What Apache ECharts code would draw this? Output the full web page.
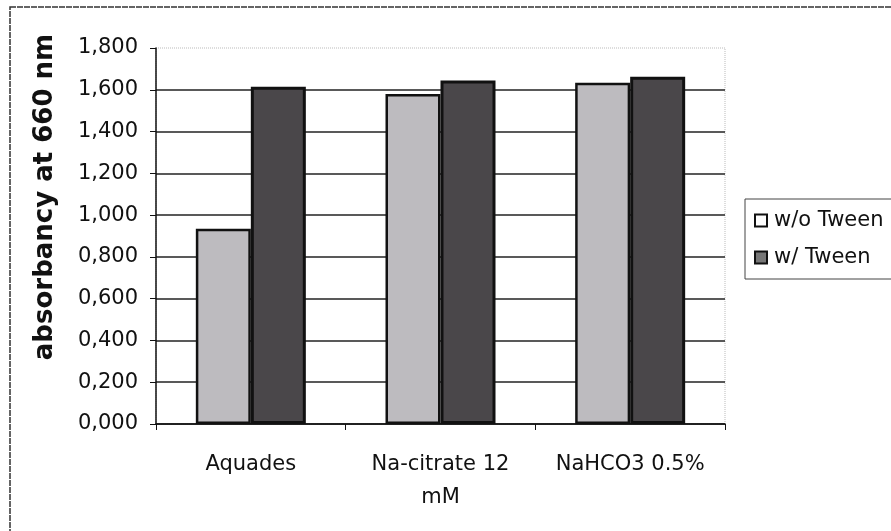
<!DOCTYPE html>
<html>
<head>
<meta charset="utf-8">
<script src="https://cdn.jsdelivr.net/npm/echarts@6/dist/echarts.min.js"></script>
<style>
  html, body { margin: 0; padding: 0; background: #fff; }
  #chart { width: 891px; height: 531px; }
</style>
</head>
<body>
<div id="chart"></div>
<script>
const categories = ["Aquades", "Na-citrate 12 mM", "NaHCO3 0.5%"];
const withoutTween = [0.935, 1.58, 1.634];
const withTween = [1.614, 1.645, 1.662];
const seriesNames = ["w/o Tween", "w/ Tween"];
const yTicks = [0, 0.2, 0.4, 0.6, 0.8, 1.0, 1.2, 1.4, 1.6, 1.8];

const font = "DejaVu Sans";

const chart = echarts.init(document.getElementById("chart"));

// last split line (at 1,800) is drawn by the dotted plot border instead
const splitColors = yTicks.map((t, i) => (i === yTicks.length - 1 ? "transparent" : "#222"));

chart.setOption({
  backgroundColor: "#fff",
  animation: false,
  graphic: [
    {
      type: "rect",
      shape: { x: 10, y: 7, width: 900, height: 540 },
      style: { fill: "none", stroke: "#333", lineWidth: 1.5, lineDash: [6, 1] },
      silent: true
    },
    {
      type: "text",
      x: 45,
      y: 197,
      rotation: Math.PI / 2,
      style: {
        text: "absorbancy at 660 nm",
        font: "bold 26px '" + font + "'",
        fill: "#111",
        align: "center",
        verticalAlign: "middle"
      }
    }
  ],
  grid: {
    left: 156,
    right: 166,
    top: 48,
    bottom: 107,
    show: true,
    borderColor: "#bbb",
    borderWidth: 1,
    borderType: "dotted"
  },
  legend: {
    orient: "vertical",
    left: 745,
    top: 199,
    padding: [11, 12, 11, 9],
    itemGap: 16,
    itemWidth: 12,
    itemHeight: 12,
    borderColor: "#444",
    borderWidth: 1,
    textStyle: { fontFamily: font, fontSize: 21, color: "#111", padding: [0, 0, 0, 2] },
    data: [
      { name: seriesNames[0], icon: "rect", itemStyle: { color: "#fff", borderColor: "#111", borderWidth: 2 } },
      { name: seriesNames[1], icon: "rect", itemStyle: { color: "#777", borderColor: "#111", borderWidth: 2 } }
    ]
  },
  xAxis: {
    type: "category",
    data: categories,
    axisLine: { lineStyle: { color: "#111", width: 1.5 } },
    axisTick: { show: true, length: 6, alignWithLabel: false, lineStyle: { color: "#111" } },
    axisLabel: {
      interval: 0,
      color: "#111",
      fontFamily: font,
      fontSize: 21,
      margin: 24,
      lineHeight: 33,
      formatter: (v) => v.replace(" mM", "\nmM")
    }
  },
  yAxis: {
    type: "value",
    min: 0,
    max: 1.8,
    interval: 0.2,
    axisLine: { show: true, lineStyle: { color: "#111", width: 1.5 } },
    axisTick: { show: true, length: 6, lineStyle: { color: "#111" } },
    splitLine: { show: true, lineStyle: { color: splitColors, width: 1.5 } },
    axisLabel: {
      color: "#111",
      fontFamily: font,
      fontSize: 21,
      margin: 18,
      formatter: (v) => v.toFixed(3).replace(".", ",")
    }
  },
  series: [
    {
      name: seriesNames[0],
      type: "bar",
      barWidth: 55,
      barGap: "0%",
      itemStyle: { color: "#bdbbbf", borderColor: "#111", borderWidth: 2.5 },
      data: withoutTween
    },
    {
      name: seriesNames[1],
      type: "bar",
      barWidth: 55,
      barGap: "0%",
      itemStyle: { color: "#4a474a", borderColor: "#111", borderWidth: 3 },
      data: withTween
    }
  ]
});
</script>
</body>
</html>
